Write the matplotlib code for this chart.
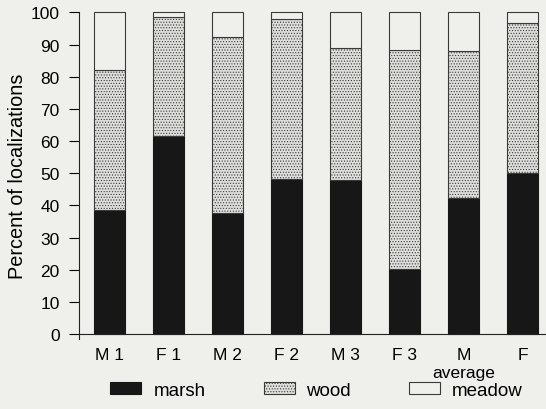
import numpy as np
import matplotlib
matplotlib.use('Agg')
import matplotlib.pyplot as plt

groups = ['M 1', 'F 1', 'M 2', 'F 2', 'M 3', 'F 3', 'M', 'F']
marsh = [38.5, 61.7, 37.5, 48.1, 47.8, 20.2, 42.2, 50.2]
wood_top = [82.0, 98.7, 92.3, 97.9, 88.9, 88.2, 88.0, 96.6]
meadow_top = [100, 100, 100, 100, 100, 100, 100, 100]

wood = [t - m for t, m in zip(wood_top, marsh)]
meadow = [t - w for t, w in zip(meadow_top, wood_top)]

bg = '#efefeb'
plt.rcParams['font.family'] = ['Liberation Sans', 'DejaVu Sans']
plt.rcParams['hatch.color'] = '#c0c0be'
plt.rcParams['hatch.linewidth'] = 0.5

fig = plt.figure(figsize=(5.46, 4.10), dpi=100, facecolor=bg)
ax = fig.add_axes([0.145, 0.171, 0.86, 0.80], facecolor=bg)

x = np.arange(len(groups))
w = 0.53
ax.bar(x, marsh, w, color='#171717', edgecolor='#171717', linewidth=0.8, label='marsh')
ax.bar(x, wood, w, bottom=marsh, color='#dededc', edgecolor='#3a3a3a', linewidth=0.8,
       hatch='......', label='wood')
ax.bar(x, meadow, w, bottom=wood_top, color=bg, edgecolor='#3a3a3a', linewidth=0.8,
       label='meadow')

ax.set_xlim(-0.52, 7.44)
ax.set_ylim(-1.5, 100.5)
ax.set_yticks(range(0, 101, 10))
ax.set_xticks(x)
ax.set_xticklabels(groups)
ax.tick_params(axis='x', length=0, pad=9, labelsize=12.5)
ax.tick_params(axis='y', length=7, width=0.8, direction='out', pad=7, labelsize=12.5)
ax.text(6, -9.6, 'average', ha='center', va='top', fontsize=12.5, transform=ax.transData)

for s in ['top', 'right']:
    ax.spines[s].set_visible(False)
ax.spines['bottom'].set_position(('data', 0))
ax.spines['left'].set_bounds(-1.5, 100)
for s in ['bottom', 'left']:
    ax.spines[s].set_linewidth(0.8)
    ax.spines[s].set_color('#222222')

ax.set_ylabel('Percent of localizations', fontsize=14.3, labelpad=3)

leg = fig.legend(loc='center', bbox_to_anchor=(0.58, 0.046), ncol=3, frameon=False,
                 fontsize=13.5, handlelength=1.65, handleheight=0.55, columnspacing=3.1,
                 handletextpad=0.64, borderpad=0)

fig.savefig('out.png', dpi=100, facecolor=bg)
